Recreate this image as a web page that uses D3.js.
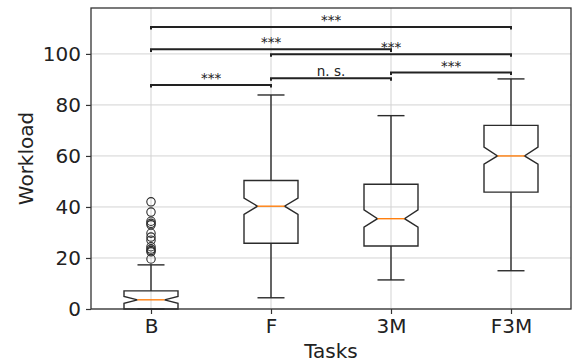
<!DOCTYPE html>
<html>
<head>
<meta charset="utf-8">
<script src="https://cdn.jsdelivr.net/npm/d3@7"></script>
<style>
  body { margin: 0; background: #fff; }
  svg { display: block; }
</style>
</head>
<body>
<div id="box-chart"></div>
<script>
// values
const categories = ["B", "F", "3M", "F3M"];
const q1 = [0, 25.8, 24.7, 45.8];
const medians = [3.6, 40.3, 35.4, 60.0];
const q3 = [7.1, 50.4, 48.9, 72.0];
const whiskerLow = [0, 4.4, 11.4, 15.0];
const whiskerHigh = [17.3, 83.9, 75.8, 90.2];
const notchLow = [2.2, 37.1, 32.1, 56.8];
const notchHigh = [4.9, 43.5, 38.9, 63.5];
const outliersB = [42, 38, 34.4, 33.6, 33, 29.7, 28.2, 27, 24.4, 23.5, 22.9, 22.4, 19.6];

const yTicks = [0, 20, 40, 60, 80, 100];

const sigPairs = [[0, 1], [1, 2], [2, 3], [0, 2], [1, 3], [0, 3]];
const sigHeights = [87.8, 90.5, 92.7, 101.8, 99.9, 110.6];
const sigLabels = ["***", "n. s.", "***", "***", "***", "***"];

function chart() {
    const width = 572,
        height = 364;
    const margin = {top: 8, right: 1, bottom: 55, left: 91};

    const svg = d3.select("#box-chart").append("svg")
        .attr("width", width)
        .attr("height", height)
        .style("font-family", "'DejaVu Sans', sans-serif");

    const x = d3.scaleLinear()
        .domain([0.5, 4.5])
        .range([margin.left, width - margin.right]);

    const y = d3.scaleLinear()
        .domain([0, 118])
        .range([height - margin.bottom, margin.top]);

    const pos = i => x(i + 1);
    const boxW = x(1.45) - x(1);

    // grid
    const grid = svg.append("g")
        .attr("stroke", "#d3d3d3")
        .attr("stroke-width", 1);
    grid.selectAll("line.gy").data(yTicks).join("line")
        .attr("class", "gy")
        .attr("x1", margin.left).attr("x2", width - margin.right)
        .attr("y1", d => y(d)).attr("y2", d => y(d));
    grid.selectAll("line.gx").data(categories).join("line")
        .attr("class", "gx")
        .attr("x1", (d, i) => pos(i)).attr("x2", (d, i) => pos(i))
        .attr("y1", y.range()[0]).attr("y2", y.range()[1]);

    // axes
    const xAxis = d3.axisBottom(x)
        .tickValues(categories.map((d, i) => i + 1))
        .tickFormat((d, i) => categories[i])
        .tickSize(5)
        .tickPadding(5);
    const yAxis = d3.axisLeft(y)
        .tickValues(yTicks)
        .tickSize(5)
        .tickPadding(5);

    svg.append("g")
        .attr("transform", `translate(0,${y(0)})`)
        .call(xAxis)
        .call(g => g.select(".domain").remove())
        .call(g => g.selectAll("line").attr("stroke", "#333").attr("stroke-width", 1.2))
        .call(g => g.selectAll("text").attr("font-size", 20).attr("fill", "#222")
            .attr("font-family", "'DejaVu Sans', sans-serif"));

    svg.append("g")
        .attr("transform", `translate(${margin.left},0)`)
        .call(yAxis)
        .call(g => g.select(".domain").remove())
        .call(g => g.selectAll("line").attr("stroke", "#333").attr("stroke-width", 1.2))
        .call(g => g.selectAll("text").attr("font-size", 20).attr("fill", "#222")
            .attr("font-family", "'DejaVu Sans', sans-serif"));

    // boxes
    const boxes = svg.append("g")
        .attr("fill", "none")
        .attr("stroke", "#2b2b2b")
        .attr("stroke-width", 1.4);

    categories.forEach((c, i) => {
        const cx = pos(i),
            l = cx - boxW / 2, r = cx + boxW / 2,
            cl = cx - boxW / 4, cr = cx + boxW / 4;
        const pts = [
            [l, y(q1[i])], [r, y(q1[i])], [r, y(notchLow[i])], [cr, y(medians[i])],
            [r, y(notchHigh[i])], [r, y(q3[i])], [l, y(q3[i])], [l, y(notchHigh[i])],
            [cl, y(medians[i])], [l, y(notchLow[i])]
        ];
        boxes.append("path").attr("d", d3.line()(pts) + "Z");

        // whiskers
        boxes.append("line")
            .attr("x1", cx).attr("x2", cx)
            .attr("y1", y(q1[i])).attr("y2", y(whiskerLow[i]));
        boxes.append("line")
            .attr("x1", cx).attr("x2", cx)
            .attr("y1", y(q3[i])).attr("y2", y(whiskerHigh[i]));
        boxes.append("line")
            .attr("x1", cl).attr("x2", cr)
            .attr("y1", y(whiskerLow[i])).attr("y2", y(whiskerLow[i]));
        boxes.append("line")
            .attr("x1", cl).attr("x2", cr)
            .attr("y1", y(whiskerHigh[i])).attr("y2", y(whiskerHigh[i]));

        svg.append("line")
            .attr("x1", cl).attr("x2", cr)
            .attr("y1", y(medians[i])).attr("y2", y(medians[i]))
            .attr("stroke", "#ff7f0e")
            .attr("stroke-width", 1.4);
    });

    boxes.selectAll("circle").data(outliersB).join("circle")
        .attr("cx", pos(0))
        .attr("cy", d => y(d))
        .attr("r", 4.2)
        .attr("stroke-width", 1.1);

    // spines
    svg.append("rect")
        .attr("x", margin.left)
        .attr("y", margin.top)
        .attr("width", width - margin.left - margin.right)
        .attr("height", y(0) - margin.top)
        .attr("fill", "none")
        .attr("stroke", "#333")
        .attr("stroke-width", 1.3);

    // significance bars
    const sig = svg.append("g");
    const drop = 1;
    sigPairs.forEach((p, k) => {
        const h = sigHeights[k];
        const pts = [
            [pos(p[0]), y(h - drop)], [pos(p[0]), y(h)],
            [pos(p[1]), y(h)], [pos(p[1]), y(h - drop)]
        ];
        sig.append("path")
            .attr("d", d3.line()(pts))
            .attr("fill", "none")
            .attr("stroke", "#222")
            .attr("stroke-width", 2);
        sig.append("text")
            .attr("x", (pos(p[0]) + pos(p[1])) / 2)
            .attr("y", y(h) - 2)
            .attr("text-anchor", "middle")
            .attr("font-size", 13.5)
            .attr("fill", "#222")
            .text(sigLabels[k]);
    });

    // axis titles
    svg.append("text")
        .attr("x", (margin.left + width - margin.right) / 2)
        .attr("y", 358)
        .attr("text-anchor", "middle")
        .attr("font-size", 20)
        .attr("fill", "#222")
        .text("Tasks");

    svg.append("text")
        .attr("transform", `translate(33,${(y(0) + margin.top) / 2}) rotate(-90)`)
        .attr("text-anchor", "middle")
        .attr("font-size", 20)
        .attr("fill", "#222")
        .text("Workload");
}

window.onload = function() {
    chart();
};
</script>
</body>
</html>
